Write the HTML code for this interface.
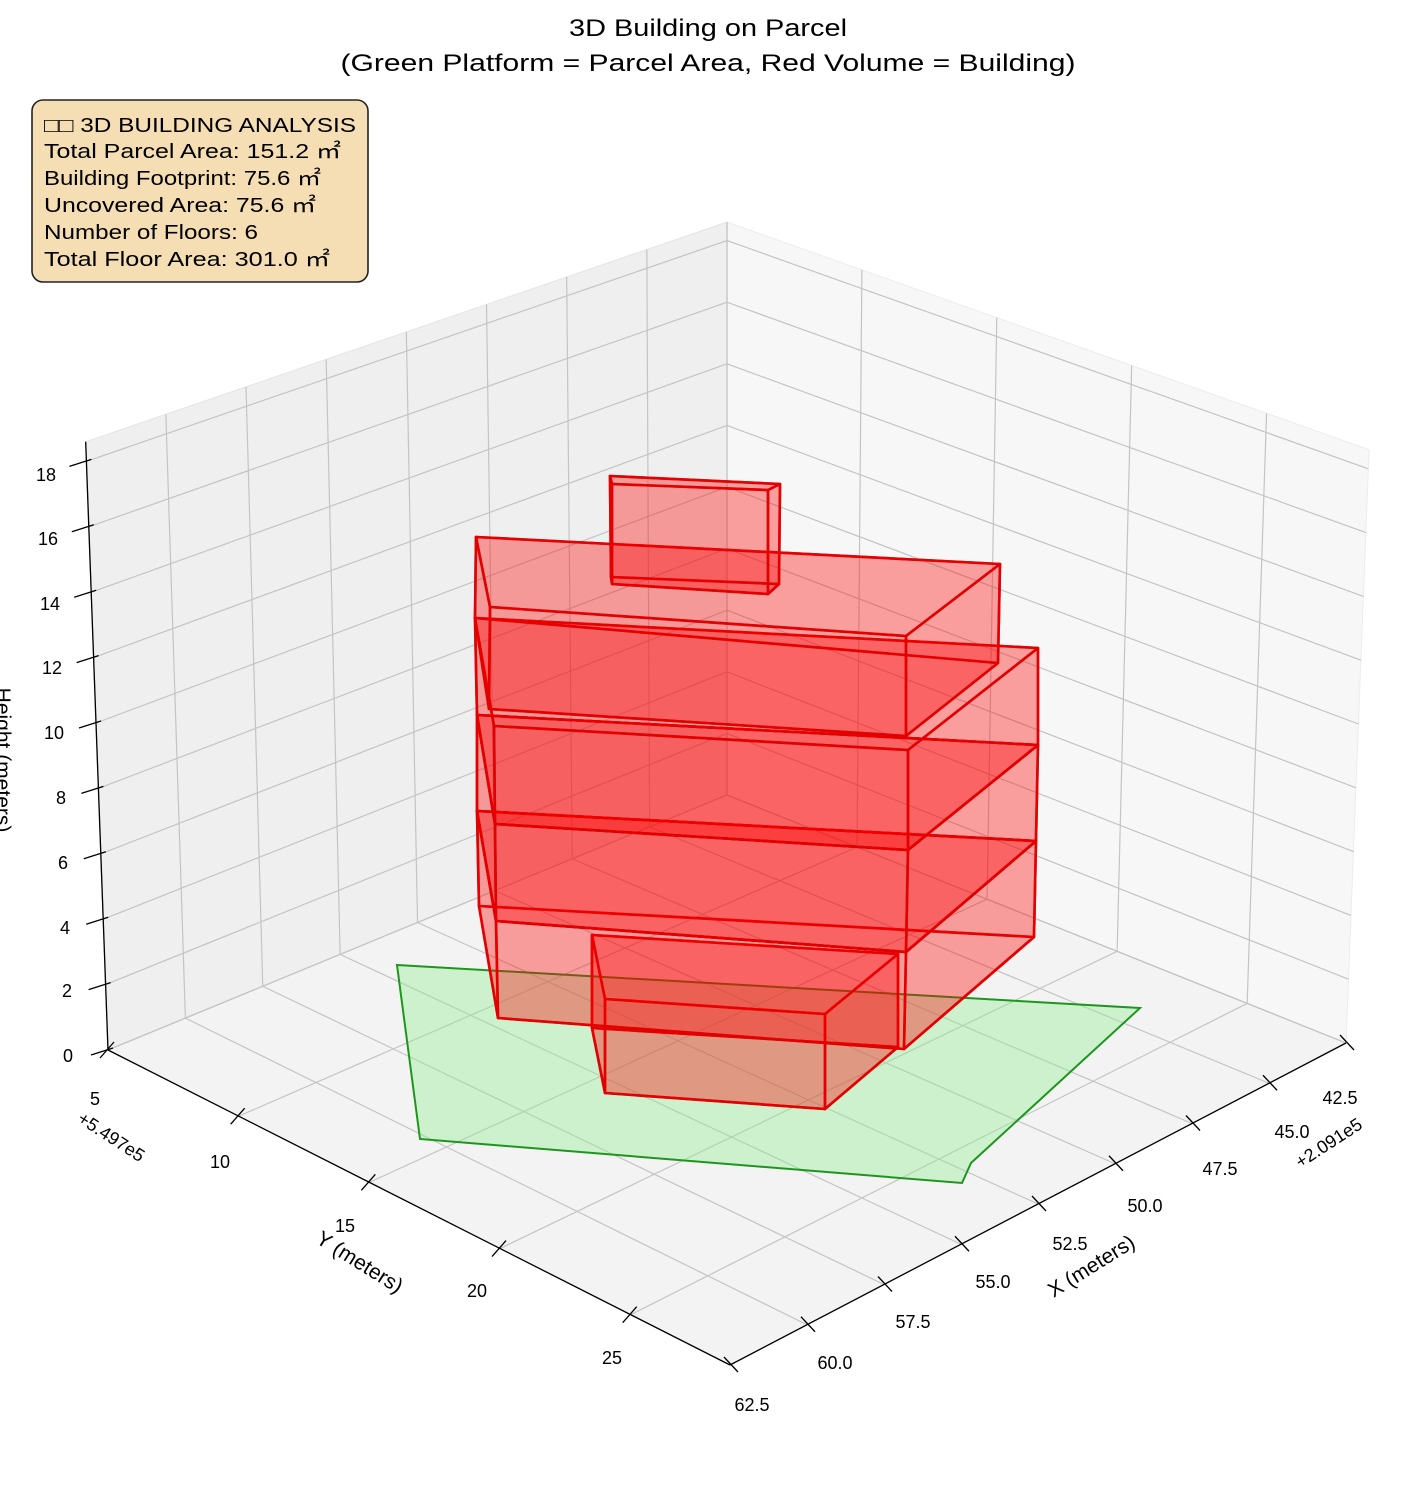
<!DOCTYPE html>
<html><head><meta charset="utf-8"><style>
html,body{margin:0;padding:0;background:#fff;}
svg{display:block;font-family:"Liberation Sans","DejaVu Sans",sans-serif;}
</style></head><body>
<svg id="s" width="1416" height="1486" viewBox="0 0 1416 1486" xmlns="http://www.w3.org/2000/svg">
<g id="panes"></g>
<g id="grid" stroke="#c4c4c4" stroke-width="1.2" fill="none"></g>
<g id="axes" stroke="#000" stroke-width="1.3" fill="none"></g>
<polygon points="397,965 1140,1008 971,1163 962,1183 420,1139" fill="rgba(144,238,144,0.38)" stroke="#1e961e" stroke-width="2"/>
<g id="bld"></g>
<text x="708" y="36" font-size="24" text-anchor="middle" textLength="278" lengthAdjust="spacingAndGlyphs">3D Building on Parcel</text>
<text x="708" y="71" font-size="24" text-anchor="middle" textLength="735" lengthAdjust="spacingAndGlyphs">(Green Platform = Parcel Area, Red Volume = Building)</text>
<rect x="32" y="100" width="336" height="182" rx="11" fill="#f5deb3" stroke="#222" stroke-width="1.6"/>
<g font-size="20" fill="#000">
<text x="44" y="132" textLength="312" lengthAdjust="spacingAndGlyphs">□□ 3D BUILDING ANALYSIS</text>
<text x="44" y="158" textLength="297" lengthAdjust="spacingAndGlyphs">Total Parcel Area: 151.2 ㎡</text>
<text x="44" y="185" textLength="277" lengthAdjust="spacingAndGlyphs">Building Footprint: 75.6 ㎡</text>
<text x="44" y="212" textLength="272" lengthAdjust="spacingAndGlyphs">Uncovered Area: 75.6 ㎡</text>
<text x="44" y="239" textLength="214" lengthAdjust="spacingAndGlyphs">Number of Floors: 6</text>
<text x="44" y="266" textLength="286" lengthAdjust="spacingAndGlyphs">Total Floor Area: 301.0 ㎡</text>
</g>
<g font-size="18" text-anchor="end">
<text x="73" y="1062">0</text><text x="72" y="997">2</text><text x="70" y="934">4</text><text x="68" y="869">6</text><text x="66" y="804">8</text><text x="64" y="739">10</text><text x="62" y="674">12</text><text x="60" y="610">14</text><text x="58" y="545">16</text><text x="56" y="481">18</text>
</g>
<text transform="translate(-4,760) rotate(90)" font-size="21" text-anchor="middle">Height (meters)</text>
<g font-size="18" text-anchor="middle">
<text x="95" y="1105">5</text><text x="220" y="1168">10</text><text x="345" y="1232">15</text><text x="477" y="1297">20</text><text x="612" y="1364">25</text>
</g>
<text transform="translate(108,1142) rotate(33)" font-size="18" text-anchor="middle">+5.497e5</text>
<text transform="translate(356,1268) rotate(32)" font-size="21" text-anchor="middle">Y (meters)</text>
<g font-size="18" text-anchor="middle">
<text x="1340" y="1104">42.5</text><text x="1292" y="1138">45.0</text><text x="1220" y="1175">47.5</text><text x="1145" y="1212">50.0</text><text x="1070" y="1250">52.5</text><text x="993" y="1288">55.0</text><text x="913" y="1328">57.5</text><text x="835" y="1369">60.0</text><text x="752" y="1411">62.5</text>
</g>
<text transform="translate(1332,1148) rotate(-33)" font-size="18" text-anchor="middle">+2.091e5</text>
<text transform="translate(1095,1272) rotate(-32)" font-size="21" text-anchor="middle">X (meters)</text>
<script>
(function(){
var NS="http://www.w3.org/2000/svg";
var B=[727,795],L=[108,1050],R=[1346,1043],F=[730,1365];
var HB=30.8,HL=32.7,HR=31.9,HF=33.5, DL=-1.2,DR=1.24;
function P(u,v,z){
 var x=(1-u)*(1-v)*B[0]+u*(1-v)*L[0]+(1-u)*v*R[0]+u*v*F[0];
 var y=(1-u)*(1-v)*B[1]+u*(1-v)*L[1]+(1-u)*v*R[1]+u*v*F[1];
 var h=(1-u)*(1-v)*HB+u*(1-v)*HL+(1-u)*v*HR+u*v*HF;
 var d=u*(1-v)*DL+(1-u)*v*DR;
 return [x+d*z,y-h*z];
}
function el(g,tag,a){var e=document.createElementNS(NS,tag);for(var k in a)e.setAttribute(k,a[k]);document.getElementById(g).appendChild(e);return e;}
function poly(g,pts,a){a=a||{};a.points=pts.map(function(p){return p[0].toFixed(1)+","+p[1].toFixed(1)}).join(" ");return el(g,"polygon",a);}
function line(g,p,q){el(g,"line",{x1:p[0],y1:p[1],x2:q[0],y2:q[1]});}
var ZM=18.6;
poly("panes",[P(0,0,0),P(1,0,0),P(1,0,ZM),P(0,0,ZM)],{fill:"#efefef",stroke:"#e4e4e4"});
poly("panes",[P(0,0,0),P(0,1,0),P(0,1,ZM),P(0,0,ZM)],{fill:"#f7f7f7",stroke:"#ececec"});
poly("panes",[P(0,0,0),P(1,0,0),P(1,1,0),P(0,1,0)],{fill:"#f3f3f3",stroke:"#e8e8e8"});
var us=[],vs=[],i;
for(i=0;i<=8;i++)us.push(i*0.125);
for(i=0;i<5;i++)vs.push((5*i)/23.8);
us.forEach(function(u){line("grid",P(u,0,0),P(u,0,ZM));line("grid",P(u,0,0),P(u,1,0));});
vs.forEach(function(v){line("grid",P(0,v,0),P(0,v,ZM));line("grid",P(0,v,0),P(1,v,0));});
for(var z=0;z<=18;z+=2){line("grid",P(0,0,z),P(1,0,z));line("grid",P(0,0,z),P(0,1,z));}
line("axes",P(1,0,0),P(1,0,ZM));
line("axes",P(1,0,0),P(1,1,0));
line("axes",P(0,1,0),P(1,1,0));
for(z=0;z<=18;z+=2){var p=P(1,0,z);line("axes",[p[0]-17,p[1]+5],[p[0]+5,p[1]-2]);}
vs.forEach(function(v){var p=P(1,v,0);line("axes",[p[0]-8,p[1]+8],[p[0]+6,p[1]-8]);});
us.forEach(function(u){var p=P(u,1,0);line("axes",[p[0]-6,p[1]-8],[p[0]+8,p[1]+7]);});
function box(t,b){
 var st={fill:"rgba(255,0,0,0.2)",stroke:"rgba(225,0,0,0.9)","stroke-width":"2.6","stroke-linejoin":"round"};
 poly("bld",b,st);
 for(var k=0;k<4;k++){var n=(k+1)%4;poly("bld",[t[k],t[n],b[n],b[k]],st);}
 poly("bld",t,st);
}
box([[592,935],[898,954],[825,1014],[605,999]],[[592,1028],[898,1047],[825,1109],[605,1093]]);
box([[477,811],[1036,841],[906,952],[496,921]],[[479,906],[1034,937],[904,1049],[498,1018]]);
box([[477,715],[1038,745],[908,850],[495,824]],[[477,811],[1036,841],[906,952],[496,921]]);
box([[475,618],[1038,648],[908,750],[494,726]],[[477,715],[1038,745],[908,850],[495,824]]);
box([[476,537],[1000,564],[906,636],[490,607]],[[475,618],[998,663],[906,736],[489,709]]);
box([[610,476],[780,484],[768,490],[612,484]],[[611,577],[779,584],[768,594],[612,584]]);
})();
</script>
</svg>
</body></html>
